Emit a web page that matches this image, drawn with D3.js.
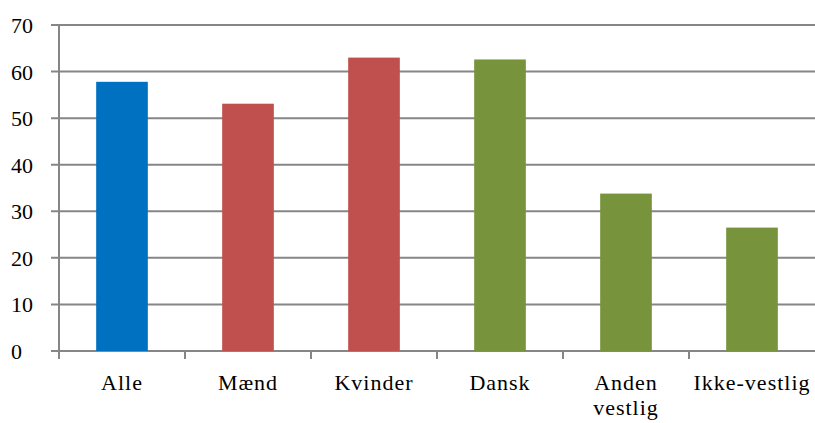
<!DOCTYPE html>
<html>
<head>
<meta charset="utf-8">
<script src="https://cdn.jsdelivr.net/npm/d3@7"></script>
<style>
  body { margin: 0; background: #fff; font-family: 'Liberation Serif', serif; }
  svg text { font-family: 'Liberation Serif', serif; }
</style>
</head>
<body>
<div id="chart"></div>
<script>
const categories = [["Alle"], ["Mænd"], ["Kvinder"], ["Dansk"], ["Anden", "vestlig"], ["Ikke-vestlig"]];
const values = [57.8, 53.1, 63.0, 62.6, 33.8, 26.5];
const groups = ["alle", "koen", "koen", "herkomst", "herkomst", "herkomst"];
const yTicks = [0, 10, 20, 30, 40, 50, 60, 70];

const colors = { alle: "#0070C0", koen: "#C0504D", herkomst: "#77933C" };

const width = 815, height = 423;
const margin = { top: 25, right: 0, bottom: 72, left: 59 };

const svg = d3.select("#chart").append("svg")
    .attr("width", width)
    .attr("height", height)
    .attr("font-family", "Liberation Serif");

const x = d3.scaleBand()
    .domain(d3.range(categories.length))
    .range([margin.left, width - margin.right])
    .paddingInner(0.59)
    .paddingOuter(0.295);

const y = d3.scaleLinear()
    .domain([0, 70])
    .range([height - margin.bottom, margin.top]);

// gridlines (with short stubs left of the axis)
svg.append("g")
    .selectAll("line")
    .data(yTicks)
  .enter().append("line")
    .attr("x1", margin.left - 8)
    .attr("x2", width - margin.right)
    .attr("y1", (d) => y(d))
    .attr("y2", (d) => y(d))
    .attr("stroke", "#868686")
    .attr("stroke-width", 2);

svg.append("g")
    .selectAll("text")
    .data(yTicks)
  .enter().append("text")
    .attr("x", 11)
    .attr("y", (d) => y(d) + 8)
    .attr("font-family", "Liberation Serif")
    .attr("font-size", 22)
    .text((d) => d);

// bars
svg.append("g")
    .selectAll("rect")
    .data(values)
  .enter().append("rect")
    .attr("x", (d, i) => x(i))
    .attr("width", x.bandwidth())
    .attr("y", (d) => y(d))
    .attr("height", (d) => y(0) - y(d))
    .attr("fill", (d, i) => colors[groups[i]]);

// y axis line
svg.append("line")
    .attr("x1", margin.left).attr("x2", margin.left)
    .attr("y1", margin.top).attr("y2", y(0) + 8)
    .attr("stroke", "#868686").attr("stroke-width", 2);

// category separators on the x axis
const step = x.step();
svg.append("g")
    .selectAll("line")
    .data(d3.range(categories.length))
  .enter().append("line")
    .attr("x1", (d) => x(d) + x.bandwidth() / 2 - step / 2)
    .attr("x2", (d) => x(d) + x.bandwidth() / 2 - step / 2)
    .attr("y1", y(0))
    .attr("y2", y(0) + 8)
    .attr("stroke", "#868686")
    .attr("stroke-width", 2);

// category labels
const labels = svg.append("g")
    .selectAll("text")
    .data(categories)
  .enter().append("text")
    .attr("x", (d, i) => x(i) + x.bandwidth() / 2)
    .attr("y", 390)
    .attr("text-anchor", "middle")
    .attr("font-family", "Liberation Serif")
    .attr("font-size", 22)
    .attr("letter-spacing", 1);

labels.selectAll("tspan")
    .data((d) => d)
  .enter().append("tspan")
    .attr("x", function() { return this.parentNode.getAttribute("x"); })
    .attr("dy", (d, i) => i === 0 ? 0 : 25)
    .text((d) => d);
</script>
</body>
</html>
